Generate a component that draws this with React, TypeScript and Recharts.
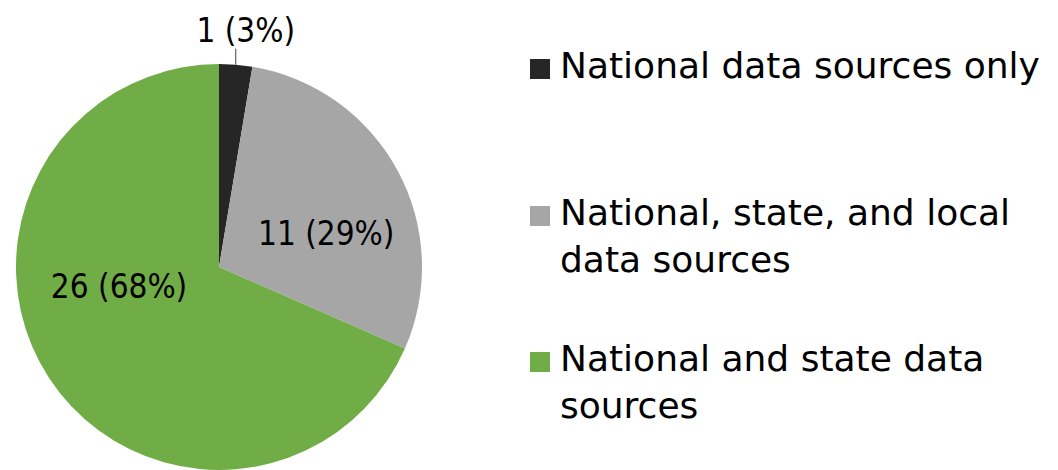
import { PieChart, Pie, Cell, Legend } from 'recharts'

const categories = [
  'National data sources only',
  'National, state, and local data sources',
  'National and state data sources',
]
const counts = [1, 11, 26]
const colors = ['#262626', '#A6A6A6', '#70AD47']

const data = categories.map((name, i) => ({ name, value: counts[i] }))

const RAD = Math.PI / 180
const labelFont = '"DejaVu Sans Condensed", "DejaVu Sans", sans-serif'
const legendFont = '"DejaVu Sans", sans-serif'

// Excel "best fit" label placement: radius fraction + nudge per slice
const labelPlace = [
  { r: 1, dx: 0, dy: 0 },
  { r: 0.55, dx: 9, dy: 20 },
  { r: 0.5, dx: -15, dy: -36 },
]

function renderLabel(props: any) {
  const { cx, cy, midAngle, outerRadius, percent, value, index } = props
  const text = `${value} (${Math.round(percent * 100)}%)`
  const cos = Math.cos(-midAngle * RAD)
  const sin = Math.sin(-midAngle * RAD)
  if (index === 0) {
    const x = cx + outerRadius * cos
    const y = cy + outerRadius * sin
    return (
      <g>
        <line x1={x} y1={y} x2={x} y2={y - 16} stroke="#404040" strokeWidth={1} />
        <text x={x + 10} y={y - 23} textAnchor="middle" fontSize={33} fontFamily={labelFont} fill="#000">
          {text}
        </text>
      </g>
    )
  }
  const p = labelPlace[index]
  const x = cx + outerRadius * p.r * cos + p.dx
  const y = cy + outerRadius * p.r * sin + p.dy
  return (
    <text x={x} y={y} textAnchor="middle" dominantBaseline="central" fontSize={33} fontFamily={labelFont} fill="#000">
      {text}
    </text>
  )
}

function renderLegend(props: any) {
  // keep the slice order, not the alphabetical one
  const items = [...(props.payload || [])].sort(
    (a: any, b: any) => categories.indexOf(a.value) - categories.indexOf(b.value)
  )
  return (
    <div>
      {items.map((entry: any, i: number) => (
        <div key={i} style={{ position: 'relative', height: 146.5 }}>
          <div
            style={{ position: 'absolute', left: 0, top: 17, width: 20, height: 20, background: entry.color }}
          />
          <div
            style={{
              position: 'absolute',
              left: 30,
              top: 0,
              width: 495,
              fontFamily: legendFont,
              fontSize: 36,
              lineHeight: '47px',
              color: '#000',
            }}
          >
            {entry.value}
          </div>
        </div>
      ))}
    </div>
  )
}

export default function App() {
  return (
    <div style={{ position: 'absolute', left: 0, top: 0, width: 1058, height: 470, background: '#fff' }}>
      <PieChart width={1058} height={470} margin={{ top: 0, right: 0, bottom: 0, left: 0 }}>
        <Pie
          data={data}
          dataKey="value"
          nameKey="name"
          cx={219}
          cy={267}
          outerRadius={203}
          startAngle={90}
          endAngle={-270}
          stroke="none"
          label={renderLabel}
          labelLine={false}
          isAnimationActive={false}
        >
          {data.map((_, i) => (
            <Cell key={i} fill={colors[i]} />
          ))}
        </Pie>
        <Legend
          content={renderLegend}
          wrapperStyle={{ position: 'absolute', left: 530, top: 42, width: 528 }}
        />
      </PieChart>
    </div>
  )
}
